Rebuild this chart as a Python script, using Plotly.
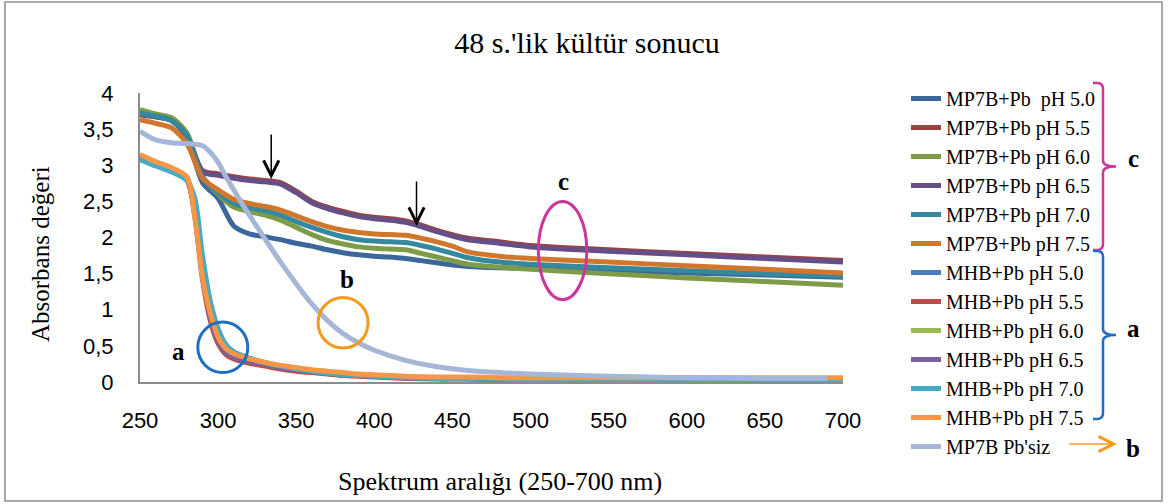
import plotly.graph_objects as go

# Wavelength grids (nm)
x_mp7b = [250, 260, 270, 280, 290, 300, 310, 320, 330, 340, 350, 360, 370, 380,
          390, 400, 410, 420, 430, 440, 450, 460, 480, 500, 550, 600, 650, 700]
x_mhb = [250, 260, 270, 280, 285, 290, 295, 300, 305, 310, 320, 330, 340, 350,
         360, 370, 380, 390, 400, 420, 440, 460, 480, 500, 550, 600, 650, 700]
x_plain = [250, 260, 270, 280, 290, 295, 300, 305, 310, 315, 320, 330, 340, 350,
           360, 370, 380, 390, 400, 420, 440, 460, 480, 500, 550, 600, 650, 690]

# MP7B + Pb absorbance
mp7b_50 = [3.71, 3.67, 3.62, 3.38, 2.76, 2.54, 2.16, 2.05, 2.01, 1.97, 1.92, 1.88, 1.83, 1.79,
           1.76, 1.74, 1.73, 1.71, 1.68, 1.65, 1.62, 1.60, 1.58, 1.57, 1.54, 1.51, 1.48, 1.45]
mp7b_55 = [3.71, 3.68, 3.63, 3.42, 2.93, 2.88, 2.84, 2.81, 2.79, 2.76, 2.64, 2.50, 2.42, 2.36,
           2.31, 2.28, 2.26, 2.23, 2.17, 2.10, 2.04, 1.99, 1.94, 1.89, 1.83, 1.78, 1.73, 1.68]
mp7b_60 = [3.77, 3.71, 3.66, 3.45, 2.84, 2.60, 2.42, 2.36, 2.31, 2.24, 2.14, 2.04, 1.96, 1.91,
           1.87, 1.85, 1.84, 1.83, 1.78, 1.73, 1.68, 1.63, 1.59, 1.56, 1.50, 1.44, 1.39, 1.34]
mp7b_65 = [3.70, 3.67, 3.62, 3.41, 2.91, 2.86, 2.82, 2.79, 2.77, 2.74, 2.62, 2.48, 2.40, 2.34,
           2.29, 2.26, 2.24, 2.21, 2.15, 2.08, 2.02, 1.97, 1.92, 1.87, 1.81, 1.76, 1.71, 1.66]
mp7b_70 = [3.72, 3.68, 3.62, 3.42, 2.84, 2.62, 2.47, 2.41, 2.37, 2.31, 2.22, 2.14, 2.07, 2.01,
           1.97, 1.95, 1.94, 1.93, 1.89, 1.84, 1.78, 1.72, 1.66, 1.63, 1.58, 1.54, 1.50, 1.47]
mp7b_75 = [3.63, 3.58, 3.52, 3.30, 2.82, 2.66, 2.53, 2.47, 2.43, 2.38, 2.30, 2.22, 2.15, 2.10,
           2.07, 2.05, 2.04, 2.03, 1.99, 1.94, 1.88, 1.80, 1.74, 1.71, 1.66, 1.61, 1.56, 1.51]

# MHB + Pb absorbance
mhb_50 = [3.12, 3.02, 2.94, 2.81, 2.35, 1.50, 0.92, 0.58, 0.42, 0.35, 0.29, 0.24, 0.20, 0.17,
          0.14, 0.12, 0.10, 0.09, 0.08, 0.06, 0.05, 0.05, 0.04, 0.04, 0.04, 0.04, 0.04, 0.04]
mhb_55 = [3.11, 3.01, 2.93, 2.80, 2.30, 1.42, 0.85, 0.53, 0.38, 0.32, 0.26, 0.22, 0.18, 0.15,
          0.13, 0.11, 0.09, 0.08, 0.07, 0.05, 0.04, 0.04, 0.03, 0.03, 0.03, 0.03, 0.03, 0.03]
mhb_60 = [3.13, 3.03, 2.95, 2.82, 2.38, 1.50, 0.93, 0.60, 0.44, 0.36, 0.30, 0.25, 0.21, 0.18,
          0.15, 0.13, 0.11, 0.10, 0.09, 0.07, 0.06, 0.05, 0.05, 0.04, 0.04, 0.04, 0.04, 0.04]
mhb_65 = [3.12, 3.02, 2.94, 2.81, 2.36, 1.48, 0.90, 0.57, 0.41, 0.34, 0.28, 0.24, 0.20, 0.17,
          0.14, 0.12, 0.10, 0.09, 0.08, 0.06, 0.05, 0.05, 0.04, 0.04, 0.04, 0.04, 0.04, 0.04]
mhb_70 = [3.08, 2.99, 2.91, 2.79, 2.55, 1.75, 1.12, 0.74, 0.52, 0.42, 0.33, 0.27, 0.22, 0.18,
          0.15, 0.12, 0.10, 0.09, 0.08, 0.06, 0.05, 0.04, 0.04, 0.03, 0.03, 0.03, 0.03, 0.03]
mhb_75 = [3.15, 3.05, 2.97, 2.84, 2.30, 1.45, 0.95, 0.62, 0.46, 0.39, 0.32, 0.27, 0.23, 0.20,
          0.17, 0.15, 0.13, 0.11, 0.10, 0.08, 0.07, 0.07, 0.06, 0.06, 0.06, 0.06, 0.06, 0.06]

# MP7B without lead
mp7b_plain = [3.47, 3.35, 3.31, 3.30, 3.27, 3.18, 3.04, 2.84, 2.66, 2.48, 2.31, 1.98, 1.66, 1.36,
              1.08, 0.85, 0.67, 0.54, 0.44, 0.30, 0.21, 0.16, 0.13, 0.11, 0.08, 0.06, 0.05, 0.05]

series_names = ["MP7B+Pb  pH 5.0", "MP7B+Pb pH 5.5", "MP7B+Pb pH 6.0", "MP7B+Pb pH 6.5",
                "MP7B+Pb pH 7.0", "MP7B+Pb pH 7.5", "MHB+Pb pH 5.0", "MHB+Pb pH 5.5",
                "MHB+Pb pH 6.0", "MHB+Pb pH 6.5", "MHB+Pb pH 7.0", "MHB+Pb pH 7.5",
                "MP7B Pb'siz"]
series_x = [x_mp7b] * 6 + [x_mhb] * 6 + [x_plain]
series_y = [mp7b_50, mp7b_55, mp7b_60, mp7b_65, mp7b_70, mp7b_75,
            mhb_50, mhb_55, mhb_60, mhb_65, mhb_70, mhb_75, mp7b_plain]
series_colors = ["#3C679A", "#9E413E", "#7E9B47", "#664F87", "#35899F", "#D0772D",
                 "#4A7EBB", "#BE4B48", "#98B954", "#7D60A0", "#46AAC5", "#F79646",
                 "#A5B6D6"]

x_ticks = [250, 300, 350, 400, 450, 500, 550, 600, 650, 700]
y_ticks = [0, 0.5, 1, 1.5, 2, 2.5, 3, 3.5, 4]
y_tick_text = ["0", "0,5", "1", "1,5", "2", "2,5", "3", "3,5", "4"]

W, H = 1168, 504
PL, PR, PT, PB = 140, 843, 93, 382

def pxx(x):
    return (x - PL) / (PR - PL)

def pxy(y):
    return (PB - y) / (PB - PT)

SERIF = "Liberation Serif"
SANS = "Liberation Sans"

fig = go.Figure()
for name, xs, ys, col in zip(series_names, series_x, series_y, series_colors):
    fig.add_trace(go.Scatter(
        x=xs, y=ys, name=name, mode="lines",
        line=dict(color=col, width=5, shape="spline", smoothing=0.8),
    ))

shapes = []
# region markers
shapes.append(dict(type="circle", xref="x", yref="y", x0=287, x1=319, y0=0.13, y1=0.83,
                   line=dict(color="#1F6FC0", width=3)))
shapes.append(dict(type="circle", xref="x", yref="y", x0=364, x1=396, y0=0.47, y1=1.17,
                   line=dict(color="#F59A1B", width=3)))
shapes.append(dict(type="circle", xref="x", yref="y", x0=505, x1=536, y0=1.14, y1=2.50,
                   line=dict(color="#C8389A", width=3)))

# legend braces
def brace(x_in, x_out, x_tip, y_top, y_bot, color):
    y_mid = (y_top + y_bot) / 2
    r = 6
    path = (f"M {pxx(x_in)},{pxy(y_top)} L {pxx(x_out - r)},{pxy(y_top)} "
            f"Q {pxx(x_out)},{pxy(y_top)} {pxx(x_out)},{pxy(y_top + r)} "
            f"L {pxx(x_out)},{pxy(y_mid - r)} "
            f"Q {pxx(x_out)},{pxy(y_mid)} {pxx(x_tip)},{pxy(y_mid)} "
            f"Q {pxx(x_out)},{pxy(y_mid)} {pxx(x_out)},{pxy(y_mid + r)} "
            f"L {pxx(x_out)},{pxy(y_bot - r)} "
            f"Q {pxx(x_out)},{pxy(y_bot)} {pxx(x_out - r)},{pxy(y_bot)} "
            f"L {pxx(x_in)},{pxy(y_bot)}")
    return dict(type="path", xref="paper", yref="paper", path=path,
                line=dict(color=color, width=2.5))

shapes.append(brace(1093, 1103, 1116, 83, 250, "#C8389A"))
shapes.append(brace(1093, 1103, 1116, 251, 419, "#1F6FC0"))

# chart frame
shapes.append(dict(type="rect", xref="paper", yref="paper",
                   x0=pxx(5), x1=pxx(1162), y0=pxy(501), y1=pxy(2),
                   line=dict(color="#8C8C8C", width=1.5)))

annotations = []
for txt, xv, yv in [("a", 178, 351), ("b", 347, 279), ("c", 563, 181),
                    ("c", 1133, 158), ("a", 1133, 328), ("b", 1133, 448)]:
    annotations.append(dict(text=f"<b>{txt}</b>", x=pxx(xv), y=pxy(yv), xref="paper",
                            yref="paper", xanchor="center", yanchor="middle",
                            showarrow=False,
                            font=dict(family=SERIF, size=25, color="black")))

# arrows on the spectra
for xa, ya in [(334, 2.81), (427, 2.16)]:
    annotations.append(dict(x=xa, y=ya, xref="x", yref="y", ax=0, ay=-46, text="",
                            showarrow=True, arrowhead=5, arrowsize=2.0, arrowwidth=1.5,
                            arrowcolor="black"))
# legend arrow
annotations.append(dict(x=pxx(1117), y=pxy(444), xref="paper", yref="paper", ax=-49, ay=0,
                        text="", showarrow=True, arrowhead=5, arrowsize=2.0, arrowwidth=1.5,
                        arrowcolor="#F59A1B"))

# axis titles
annotations.append(dict(text="Spektrum aralığı (250-700 nm)", x=pxx(500), y=pxy(481),
                        xref="paper", yref="paper", xanchor="center", yanchor="middle",
                        showarrow=False,
                        font=dict(family=SERIF, size=26, color="black")))
annotations.append(dict(text="Absorbans değeri", x=pxx(40), y=pxy(254), xref="paper",
                        yref="paper", xanchor="center", yanchor="middle",
                        showarrow=False, textangle=-90,
                        font=dict(family=SERIF, size=25, color="black")))

fig.update_layout(
    width=W, height=H,
    margin=dict(l=PL, r=W - PR, t=PT, b=H - PB),
    paper_bgcolor="white", plot_bgcolor="white",
    title=dict(text="48 s.'lik kültür sonucu", x=587 / W, y=1 - 42 / H,
               xanchor="center", yanchor="middle",
               font=dict(family=SERIF, size=30, color="black")),
    xaxis=dict(range=[250, 700], tickvals=x_ticks, showgrid=False, zeroline=False,
               showline=True, linecolor="#8C8C8C", linewidth=2, ticks="",
               ticklabelstandoff=18,
               tickfont=dict(family=SANS, size=22, color="black")),
    yaxis=dict(range=[0, 4], tickvals=y_ticks, ticktext=y_tick_text, showgrid=False,
               zeroline=False, showline=True, linecolor="#8C8C8C", linewidth=2, ticks="",
               ticklabelstandoff=20,
               tickfont=dict(family=SANS, size=22, color="black")),
    legend=dict(x=pxx(906), y=pxy(79), xanchor="left", yanchor="top",
                font=dict(family=SERIF, size=20, color="black"),
                bgcolor="rgba(0,0,0,0)", tracegroupgap=0, maxheight=480),
    shapes=shapes,
    annotations=annotations,
    showlegend=True,
)

fig.write_html("out.html")
